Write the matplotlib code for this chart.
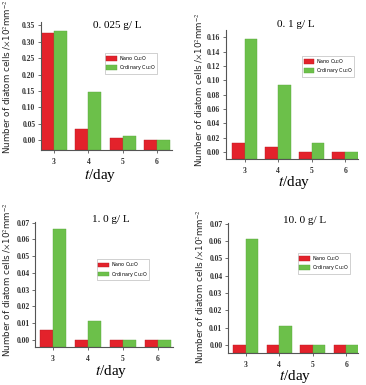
import matplotlib
matplotlib.use("Agg")
import matplotlib.pyplot as plt
import numpy as np

# diatom cell counts (x10^2 mm^-2) per day, four Cu2O doses
days = [3, 4, 5, 6]
doses = ["0. 025 g/ L", "0. 1 g/ L", "1. 0 g/ L", "10. 0 g/ L"]
nano_025 = [0.325, 0.033, 0.007, 0.001]
ordinary_025 = [0.332, 0.147, 0.012, 0.001]
nano_01 = [0.012, 0.007, 0.0, 0.0]
ordinary_01 = [0.158, 0.093, 0.012, 0.0]
nano_10 = [0.006, 0.0, 0.0, 0.0]
ordinary_10 = [0.066, 0.011, 0.0, 0.0]
nano_100 = [0.0, 0.0, 0.0, 0.0]
ordinary_100 = [0.061, 0.011, 0.0, 0.0]

RED = "#e3222b"
GREEN = "#6cc04a"
W = 0.38

plt.rcParams["mathtext.fontset"] = "stix"

fig = plt.figure(figsize=(3.66, 3.85), dpi=100)

panels = [
    # rect, nano, ordinary, ylim, yticks, xlim, legend anchor, title xy,
    # ylabel xy, xlabel xy
    ([0.112, 0.610, 0.358, 0.333], nano_025, ordinary_025, (-0.03, 0.36),
     np.arange(0, 0.351, 0.05), (2.62, 6.44), (0.47, 0.78), (0.58, 0.975),
     (-0.215, 0.57), (0.45, -0.13)),
    ([0.617, 0.587, 0.361, 0.335], nano_01, ordinary_01, (-0.0097, 0.17),
     np.arange(0, 0.161, 0.02), (2.44, 6.38), (0.56, 0.82), (0.53, 1.04),
     (-0.155, 0.54), (0.52, -0.115)),
    ([0.096, 0.099, 0.377, 0.325], nano_10, ordinary_10, (-0.0042, 0.0705),
     np.arange(0, 0.0701, 0.01), (2.49, 6.43), (0.43, 0.72), (0.55, 1.02),
     (-0.16, 0.54), (0.55, -0.13)),
    ([0.623, 0.083, 0.355, 0.338], nano_100, ordinary_100, (-0.0046, 0.0705),
     np.arange(0, 0.0701, 0.01), (2.47, 6.35), (0.52, 0.79), (0.59, 1.02),
     (-0.17, 0.51), (0.52, -0.115)),
]

x = np.array(days, dtype=float)
for (rect, nano, ordinary, ylim, yticks, xlim, leg_xy, title_xy,
     ylab_xy, xlab_xy), dose in zip(panels, doses):
    ax = fig.add_axes(rect)
    y0 = ylim[0]
    ax.bar(x - W / 2, np.array(nano) - y0, W, bottom=y0, color=RED,
           edgecolor="#b81c22", linewidth=0.3, label=r"Nano Cu$_2$O")
    ax.bar(x + W / 2, np.array(ordinary) - y0, W, bottom=y0, color=GREEN,
           edgecolor="#5aa83c", linewidth=0.3, label=r"Ordinary Cu$_2$O")
    ax.set_xlim(*xlim)
    ax.set_ylim(*ylim)
    ax.set_xticks(days)
    ax.set_yticks(yticks)
    ax.set_yticklabels([f"{t:.2f}" for t in yticks])
    for s in ("top", "right"):
        ax.spines[s].set_visible(False)
    for s in ("left", "bottom"):
        ax.spines[s].set_color("#555555")
        ax.spines[s].set_linewidth(0.8)
    ax.tick_params(length=2, width=0.6, color="#555555", pad=2)
    for lab in ax.get_xticklabels() + ax.get_yticklabels():
        lab.set_fontfamily("Liberation Serif")
        lab.set_fontweight("bold")
        lab.set_fontsize(5.5)
        lab.set_color("#333333")
    ax.tick_params(axis="x", pad=4)

    ax.set_xlabel(r"$t$/day", fontsize=11, family="Liberation Serif")
    ax.xaxis.set_label_coords(*xlab_xy)
    ax.set_ylabel(r"Number of diatom cells /$\times$10$^2$mm$^{-2}$",
                  fontsize=6.3, family="DejaVu Sans", color="#222222")
    ax.yaxis.set_label_coords(*ylab_xy)

    ax.text(title_xy[0], title_xy[1], dose, transform=ax.transAxes,
            ha="center", va="center", fontsize=8, family="Liberation Serif")

    leg = ax.legend(loc="upper left", bbox_to_anchor=leg_xy, fontsize=3.5,
                    frameon=True, fancybox=False, handlelength=2.2,
                    handleheight=1.0, handletextpad=0.3, borderpad=0.3,
                    labelspacing=0.1)
    leg.get_frame().set_edgecolor("#999999")
    leg.get_frame().set_linewidth(0.4)

fig.savefig("out.png", dpi=100)
